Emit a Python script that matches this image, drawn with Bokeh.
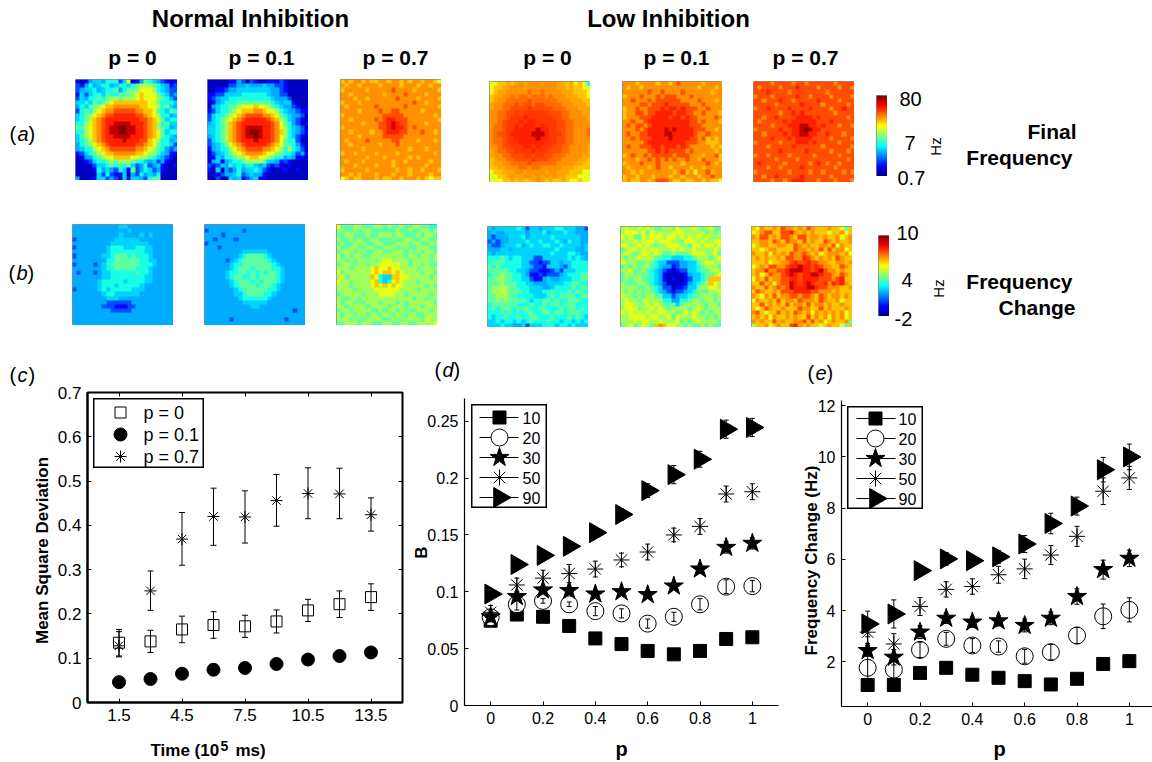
import math
import numpy as np
from bokeh.embed import file_html
from bokeh.layouts import column, row
from bokeh.models import ColumnDataSource, FixedTicker, Label, LinearAxis, LinearColorMapper, Range1d, TeeHead, Whisker
from bokeh.plotting import figure
from bokeh.resources import INLINE
from bokeh.core.properties import value

FONT = "Liberation Sans"
G = lambda s: [r.replace(" ", "") for r in s.strip().splitlines()]

normal_a_p0 = G("""
212455 466635 912476 543212
324645 664566 567888 765423
345564 566746 778999 865433
253566 576677 789A99 976534
354667 678878 889A99 987643
556576 789AAA AAAAA9 976665
465778 9AABBB BBBAA9 986754
367689 ABBCCC CCBBAA 976576
56789A BCCDDD DDCCBA 986645
5678AB CDDDDD DDDCCB A97566
6689AB CDDEEE EDDDCB A86755
7789AB CDEEFF EEDDCB A87645
6689AB CDEEFF EEDDCB A97566
5789AB CDDEEE EDDDCB A97654
5678AB CDDDDE DDDCCA 986645
46789A BCDDDD DDCCBA 976653
456689 ABCCCC CCBBA9 876434
235678 9AABBB BBAA98 865422
124467 899AAA A99887 654321
112356 678788 876654 534211
111135 567676 753463 452112
111126 454365 273465 342111
111115 363225 143645 461111
411125 534315 255436 771111
""")
normal_a_p1 = G("""
111112 243132 112223 211111
111113 344544 454433 211111
112234 455555 555443 211111
223355 556666 665443 311111
234556 666666 666544 431111
124566 677777 777654 552111
145667 78999A 998765 443211
235667 89AAAB BA9986 544322
356678 9ABCCC CBBA97 654431
356789 ABCDDD DDCBA8 754321
45678A BCDDDD DDDCB9 764312
55678A BCDEEE EDDCB9 865431
55678A BCDEFF EDDCBA 865432
45678A BCDEEF EDDCB9 865321
35678A BCDDDE DDDCB9 766311
345679 ABCDDD DDCBA9 776421
245668 9ABCCC CBBA98 686531
134567 89ABBB BA9987 665342
225466 7889AA 998766 454221
145245 667888 875542 321111
323546 565665 453232 121111
215143 464556 532111 211211
112344 563454 421111 111111
113115 452345 121111 111111
""")
normal_a_p7 = G("""
ABABBA BAABBA BBABAB BABBA9
BABBAB BBBABB BBABBB ABBABB
ABBBBB ABBBBB CBBBBA BBBBBA
BBABBB BBBBAB BBBCBB BBABBB
BBBABB ABBBBB BCBBBB ABBBBA
ABBBAB BBBBBB BBBBBC BBABBB
BABBBB BBCBBB BBBCBB BBBBBA
BBBBAB BBBCBB CCBBBB BABBBB
ABBBBB BBBBCC CCCBBB BBBBAB
BBABBB BBCBCD DCCCBB BBBBBA
BBBBBA BBBCCD EDCCBB BBABBB
ABBBBB BBBCCD EDDCBC BBBBBB
BBABBB BABBCD DDCCBB BCBBAB
BBBBAB BBBBCC CCCBBB BBBBBB
BABBBB CBBBBB CCBBBB ABBBAB
BBABBB BBBABB BCBBBB BBBBBB
BBBBBA BBBBBB BBBBAB BBABBB
ABBABB BBABBB BABBBB BBBBAB
BBBBBB ABBBAB BBBBAB ABBBBB
BABBBA BBBBBB ABBABB BBBABB
BBBABB BBABBB ABBBBB BBABBB
ABBBBB ABBBBB BABBAB BABBBA
BBABAB BBABBB ABBBAB BBBABB
9ABAAB BBABAA BBABBB ABA9AA
""")
low_a_p0 = G("""
99AAaA aBaBBB aBBBaa Aa9A96
9AAaaB BBaBBB BBBBaa AaAA99
9AaaBB BBBbBB bBBBBa aaAAA9
AaaBBb BbbBbb bBbBBB aaaAA9
AaBBbb bbbCbb bbbbBB BaaaAA
aBBbbb CbCCbC CbbbbB BBaaaA
aBBbbC CCCcCC CCCbbb BBBaaa
BBbbCC cCcccc ccCCCb bBBBaa
BBbbCc ccDccc cccCCb bBBBBa
BBbCcc cDcDDc ccccCC bbBBBa
BbbCcc DcDDDc DcccCC bbBBBB
BbbCcc DDDDDE DDccCC bbBBBb
BbCCcD DDDDEE EDcccC bbBBBb
BbbCcc DDDDDE DDccCC bbBBBB
BbbCcc cDDDDD DcccCC bbBBBB
BBbCCc ccDDcD cccCCb bBBBBa
aBbbCC ccccDc ccCCCb bBBBBa
aBBbbC CCccCc cCCbbb BBBBaa
AaBBbb CCCCcC CCbbbB BBBaaA
AaaBBb bbbCbb bbbbBB BBaaAA
AAaaBB BbbBbb BBBBBa aaAAAA
9AAaaa BBaBBB BaBBaa aAAA99
99AAaB aaBBaB aBaBaa AAA999
999AAa AaAAaB aAaAAa A99A99
""")
low_a_p1 = G("""
BBBABB BBABBA BCBBBB BABBBB
BABBAB BBBBBB BBBBBB ABBBAB
BBBBBB CBBCBB BBCBBB BBBABB
ABBBCB BBCBCC CBBBCB BBBBBB
BBCBBB CBCCCC CCBBBB CBBBAB
BBBBCC BCCCDC CCCCBB BCBBBB
ABBCBB CCCDCD DCDCCC BBCBBB
ABBCCB CCDDDD CDDCCB BCBBBA
ABBBCC CDDDDC DDCDCC BBBBCB
BBCBBC DDDDDD DDDDCC BCBBBA
BCBCCB CDDDDD DDDDCC CBBBBB
BBBCBC DDDDED EDDDDC CCBBAB
BCBBCC DDDDEE DDDDDC BBCBBB
BBCBCC CDDDDE DDDDCC BCABAB
BBBBBC DDDDDD DDDCCC BBAAAB
BCBBCC CDDCDD DCDCBB BBBABA
BBBBBB CCDCDC CCCBCB BBBBAB
ABCBBC BCCCCC BCCCBB BABBCA
BBBABB CBCBCB CBBCBB ACBBBA
ABBBCB BBCBBB BBABBB BBCBAB
BABBBB ABCBBA BBBBAB BABBBB
BBABAB BBBBBB ABCAB9 BBCABB
ABBABB BABBBA BBABBB ABBCBB
ABAABB ABCCCB AABAAB BABAA9
""")
low_a_p7 = G("""
CCCCBC CCCBCC BCCCCC CBCCCC
CBCCCC BCCCDC CCCBCC CCBCCB
CCCDCC CCBCCC CCCCCB CCCCCC
BCCCBC CCCCDC CBCCCC BCCCCB
CCBCCC DCCBCC CCCDCC CCBCCC
CCCCCB CCCCCD CCCCBC CCCCBC
BCCDCC CCDCCC CDCCCC BCCDCC
CCCCCC BCCDCD CCCCCC CBCCCC
CCBCCD CCCCDD DDCDCC CCCCBC
CBCCCC CDCDDD DDDCCC DCCCCC
CCCCBC CCDDDE EDDCDC CCBCCB
BCCCCC DCCDDE FEDDCC CCCCCC
CCBCCC CDCDDE EDDCCD CCCBCC
CCCCDC CCDCDD DDCCCC BCCCCB
BCCCCC BCCCDD DCDCCC CCBCCC
CCCBCC CCCDCC CCCCBC CCCCCB
CCCCCC DCCCCC DCCCCC BCCCBC
BCCBCC CCBCCC CCBCCC CCBCCC
CCCCCB CCCCBC CCCCCC CCCCBC
CDCCCC CBCCCC CBCDCB CCBCCC
CCCBCC BCCCCD CCCCCC CBCCCC
BCCCCC CCBCCC CBCCBC CCCBCB
CCBCCD CCCCCD CCCCCC BCCCCC
CCCCBC CBCDDD CCCBCC CBCCCB
""")
normal_b_p0 = G("""
444444 444445 544444 444444
444444 444444 454444 444444
444444 444445 444454 544444
344444 444455 555544 444444
444444 444555 555555 444444
344444 445666 555665 544444
444444 445666 666665 544444
344444 455677 767666 544444
444444 446677 777766 554444
344443 456777 777766 654444
444444 456677 777666 544444
434443 455666 666766 544444
444444 455666 666665 544444
444444 566666 566665 544444
444444 566656 666654 444444
344444 565666 665554 444444
444444 456655 555544 444444
444444 445554 444444 444444
444444 443333 334444 444444
444444 433322 233444 444444
444444 444333 334444 444444
444444 444444 444444 444444
444444 444444 444444 444444
444444 444444 444444 444444
""")
normal_b_p1 = G("""
444444 444444 444444 444444
344444 444344 444444 444444
444434 444444 444444 444444
443444 434444 444444 444444
344444 444444 444444 444444
444344 444444 444444 444444
444444 444555 555444 444444
444444 445677 776544 444444
444443 456777 777654 444444
444444 566777 777765 444444
444444 567776 777766 544444
444445 667767 676776 544444
444445 677667 677776 544444
444444 567776 767776 544444
444444 567777 677765 444444
444444 456777 777665 444444
444444 455677 776654 444444
444444 445666 666544 444444
444444 444555 555444 444444
444444 444445 544444 444444
444444 444444 444444 444344
444444 444444 444444 444444
444444 344444 444444 434444
444444 444444 444444 444444
""")
normal_b_p7 = G("""
977788 777887 877877 887766
887787 887777 778778 778878
778877 787788 878877 787887
877878 778877 787788 778877
787788 877887 778887 887788
877887 788778 887787 788877
788878 877887 788878 787887
878788 778888 888878 878878
887878 888789 988887 888878
788878 878899 999887 887877
888788 889A99 A99888 878888
978888 889A9A A9A988 887887
897888 88A965 5AA998 888878
988888 889A65 69A988 878888
888788 889A9A 9A9988 888787
888878 888999 999888 878888
788888 788899 998878 888878
877887 888888 888888 788788
878878 788878 887878 888887
887888 878888 788878 887888
788788 887787 887887 788878
878878 878878 878878 877888
888787 788887 788788 887988
778887 887778 877887 788889
""")
low_b_p0 = G("""
545555 565355 455566 555443
454455 555455 564555 655444
434445 556455 555655 555544
343445 555655 655565 465544
433455 564565 566556 555545
444554 555555 555565 555445
545555 555555 555655 566544
666765 665553 355555 565654
677766 665533 233554 556666
767666 665543 325554 356666
777776 655433 222343 555666
677877 665422 323334 566677
778877 665532 245445 556677
777877 766554 445555 667766
788887 766655 544566 667677
788987 776655 566766 676776
778887 766665 556767 777677
778787 777656 677676 677766
677777 766676 676776 777666
676777 677766 776667 677676
666767 666776 677677 677766
656676 676677 666766 676765
556566 565676 667665 665656
555655 445355 566656 656555
""")
low_b_p1 = G("""
898898 987788 798889 878977
899989 798988 999888 897878
989779 899989 989898 989888
888989 998999 887999 898899
998898 987889 998879 989989
789989 899888 989889 888898
898789 989877 877789 998897
878898 987766 555667 888789
988877 876553 334455 789988
787878 876544 234455 678887
889778 765432 123355 677898
788787 765421 111245 567789
787887 765421 211235 567AAA
877788 765431 111245 678A98
888877 876533 122355 788998
878787 876543 233456 877889
988787 887755 345567 788878
898878 988866 446678 878878
899888 989877 757888 887887
899978 898987 888878 987888
989898 988998 878989 878788
889999 899889 798889 887878
888989 988988 897878 988887
789789 87ABA9 988787 787877
""")
low_b_p7 = G("""
A9BAAB ACBBAB ACBAAA BAA97A
9ABCCA ACCDBA BABAAA 9AAB9A
BACCAB ACCBAC CABBAB AAB9AB
AABBAC BACBBA CABAAC BABAAB
9ABBAA BBAACB ABAABB AC9BAA
AA9ABB AAAACB BABACA CABB9A
BAAB9B ABACBB CBAB9A BBBAB9
ABABAA BACCBB DCBABA BACBAA
AAAB9A ABBCDC CDCCBB AABBAB
9ABACC BBCDDE DDCDCB BAACBA
ABBDBB CCDEEE DDCDEC BBABAA
AB9ACB BCDEDC DDEEDC CBACBA
9BACAB BCCDDC DDDDCC CBCDAA
AACAB9 BCCEDC DEDCCD BDCDBA
BAACAB CBCEDD DEEDCC BBBAAB
ACBAAB ACCCDD DDCCBB BABAAA
BA9BAC ABBCCB CCBACB ABBABA
9BAABA CABBAC BBBACB AAB9AA
AACABA BACABB ACABBA BAABAA
A9ACBA ABAAAC BBAACA BAAABA
BCA9AA CABACB AB9BAB ABAB9A
ABAB9B AABABA ACABAB 9BAB9A
BABAAC ABAABB CACAB9 ABAAB7
8AAB9A BAACDB ABAA9A BAA97A
""")

# panel c
time_x = [1.5, 3, 4.5, 6, 7.5, 9, 10.5, 12, 13.5]
c_p0 = [.135, .138, .165, .175, .172, .183, .208, .222, .238]
c_p0_err = [.03, .025, .03, .03, .025, .026, .025, .03, .03]
c_p1 = [.046, .053, .065, .074, .078, .087, .097, .105, .113]
c_p7 = [.128, .252, .369, .42, .419, .456, .472, .471, .424]
c_p7_up = [.16, .297, .429, .484, .478, .515, .53, .529, .462]
c_p7_lo = [.103, .208, .31, .355, .36, .398, .415, .415, .387]
c_names = ["p = 0", "p = 0.1", "p = 0.7"]

# panels d and e
p_x = [0, .1, .2, .3, .4, .5, .6, .7, .8, .9, 1]
size_names = ["10", "20", "30", "50", "90"]
d_vals = [
    [.0746, .080, .078, .070, .059, .054, .048, .045, .048, .0585, .060],
    [.0776, .089, .092, .089, .083, .081, .072, .078, .089, .1045, .105],
    [.078, .0957, .1016, .101, .098, .100, .0975, .105, .120, .139, .1426],
    [.082, .106, .112, .116, .120, .128, .135, .150, .1575, .186, .188],
    [.098, .124, .132, .140, .152, .168, .189, .203, .2166, .243, .2445],
]
d_errs = [
    [.001] * 11,
    [.003, .005, .002, .002, .004, .004, .004, .004, .005, .006, .005],
    [.003, .003, .003, .003, .003, .003, .003, .003, .004, .005, .005],
    [.006, .006, .007, .008, .007, .006, .007, .006, .007, .007, .007],
    [.002, .002, .002, .002, .003, .005, .006, .008, .007, .008, .008],
]
e_vals = [
    [1.1, 1.1, 1.57, 1.77, 1.5, 1.38, 1.25, 1.12, 1.34, 1.92, 2.03],
    [1.77, 1.7, 2.47, 2.9, 2.64, 2.6, 2.22, 2.38, 3.03, 3.78, 4.03],
    [2.44, 2.18, 3.16, 3.7, 3.55, 3.6, 3.42, 3.7, 4.55, 5.6, 6.04],
    [3.16, 2.7, 4.16, 4.83, 4.94, 5.4, 5.63, 6.17, 6.9, 8.66, 9.18],
    [3.48, 3.87, 5.56, 6.02, 5.95, 6.1, 6.6, 7.4, 8.08, 9.5, 10.0],
]
e_errs = [
    [.05] * 11,
    [.45, .55, .3, .25, .27, .22, .27, .3, .32, .48, .47],
    [.2, .3, .25, .2, .2, .2, .25, .25, .3, .37, .32],
    [.45, .4, .35, .3, .3, .33, .38, .37, .39, .52, .45],
    [.5, .55, .2, .25, .2, .25, .33, .4, .35, .48, .5],
]


def jet(v):
    c = lambda x: max(0.0, min(1.0, x))
    return "#%02x%02x%02x" % tuple(int(255 * c(1.5 - abs(4 * v - k))) for k in (3, 2, 1))


JET = [jet(i / 255) for i in range(256)]
MAPPER = LinearColorMapper(palette=JET, low=0, high=15)
LEVELS = {c: float(i) for i, c in enumerate("0123456789ABCDEF")}
LEVELS.update({"4": 4.4, "A": 10.2, "D": 12.6, "a": 10.7, "b": 11.5, "c": 12.3})


def place(fig, left, top):
    # a wrapper of its own keeps the column from lining up the frames of the figures
    return row(fig, width=fig.width, height=fig.height,
               styles={"position": "absolute", "left": f"{left}px", "top": f"{top}px"})


def bare(w, h, xr, yr):
    f = figure(width=w, height=h, x_range=xr, y_range=yr, toolbar_location=None, output_backend="svg",
               min_border_left=0, min_border_right=0, min_border_top=0, min_border_bottom=0, tools="",
               x_axis_location=None, y_axis_location=None)
    f.grid.visible = False
    f.background_fill_alpha = 0
    f.border_fill_alpha = 0
    return f


def heat(rows, x0, y0, x1, y1):
    arr = np.array([[LEVELS[ch] for ch in r] for r in rows])[::-1]
    n = arr.shape[0]
    # each cell is repeated so that the browser's image scaling keeps the cells' edges
    img = np.kron(arr, np.ones((5, 5)))
    f = bare(x1 - x0, y1 - y0, Range1d(0, n), Range1d(0, n))
    f.image(image=[img], x=0, y=0, dw=n, dh=n, color_mapper=MAPPER)
    f.outline_line_color = "#8a8a80"
    f.outline_line_width = 1
    return place(f, x0, y0)


# background text layer, in page pixels
bg = bare(1152, 762, Range1d(0, 1152), Range1d(762, 0))
bg.outline_line_color = None


def T(x, y, s, size=16, style="normal", align="left", angle=0):
    bg.add_layout(Label(x=x, y=y, text=s, text_font=FONT, text_font_size=f"{size}px",
                        text_font_style=style, text_align=align, text_baseline="middle",
                        angle=angle, angle_units="deg", text_color="black"))


T(250, 18, "Normal Inhibition", 24, "bold", "center")
T(668, 18, "Low Inhibition", 24, "bold", "center")
for cx, s in [(132, "p = 0"), (261, "p = 0.1"), (395, "p = 0.7"),
              (547, "p = 0"), (676, "p = 0.1"), (805, "p = 0.7")]:
    T(cx, 57, s, 21, "bold", "center")
for x, y, a in [(9, 133, "a"), (8, 272, "b"), (9, 374, "c"), (434, 369, "d"), (807, 372, "e")]:
    T(x, y, "(", 20)
    T(x + 8, y, a, 20, "italic")
    T(x + 19, y, ")", 20)
for x, y, s in [(1076, 131, "Final"), (1072, 157, "Frequency"), (1072, 281, "Frequency"), (1075, 307, "Change")]:
    T(x, y, s, 21, "bold", "right")
for x, y, s in [(899, 98, "80"), (904, 142, "7"), (897, 177, "0.7"), (896, 232, "10"), (901, 279, "4"), (894, 318, "-2")]:
    T(x, y, s, 20)
T(935, 146, "Hz", 15, "normal", "center", 90)
T(938, 288, "Hz", 15, "normal", "center", 90)
T(42, 550, "Mean Square Deviation", 17, "bold", "center", 90)
T(150, 750, "Time (10", 17, "bold")
T(220, 745, "5", 14, "bold")
T(235, 750, "ms)", 17, "bold")
T(421, 552, "B", 17, "bold", "center", 90)
T(621, 748, "p", 20, "bold", "center")
T(811, 560, "Frequency Change (Hz)", 17, "bold", "center", 90)
T(999, 748, "p", 20, "bold", "center")

heatmaps = [
    (normal_a_p0, 75, 79, 177, 180), (normal_a_p1, 207, 79, 308, 180), (normal_a_p7, 340, 79, 441, 180),
    (low_a_p0, 489, 81, 590, 182), (low_a_p1, 622, 81, 722, 182), (low_a_p7, 753, 81, 854, 182),
    (normal_b_p0, 72, 224, 173, 325), (normal_b_p1, 204, 224, 305, 325), (normal_b_p7, 336, 224, 437, 325),
    (low_b_p0, 487, 226, 588, 327), (low_b_p1, 620, 226, 721, 327), (low_b_p7, 751, 226, 852, 327),
]
figs = [place(bg, 0, 0)] + [heat(*h) for h in heatmaps]

for x0, y0, x1, y1 in [(876, 95, 887, 176), (878, 235, 889, 316)]:
    cb = bare(x1 - x0, y1 - y0, Range1d(0, 1), Range1d(0, 256))
    cb.image(image=[np.arange(256.0).reshape(256, 1)], x=0, y=0, dw=1, dh=256,
             color_mapper=LinearColorMapper(palette=JET, low=0, high=255))
    cb.outline_line_color = "#8a8a80"
    figs.append(place(cb, x0, y0))


def panel(fl, ft, fr, fb, xr, yr, xt, xl, yt, yl, tick_size, boxed):
    ml, mr, mt, mb = 58, 6, 12, 34
    mr = min(mr, 1152 - fr)
    f = figure(width=fr - fl + ml + mr, height=fb - ft + mt + mb, x_range=Range1d(*xr), y_range=Range1d(*yr),
               toolbar_location=None, output_backend="svg", tools="", min_border_left=ml, min_border_right=mr,
               min_border_top=mt, min_border_bottom=mb)
    f.grid.visible = False
    f.background_fill_alpha = 0
    f.border_fill_alpha = 0
    f.xaxis.ticker = FixedTicker(ticks=xt)
    f.yaxis.ticker = FixedTicker(ticks=yt)
    f.xaxis.major_label_overrides = dict(zip(xt, xl))
    f.yaxis.major_label_overrides = dict(zip(yt, yl))
    for ax in (f.xaxis[0], f.yaxis[0]):
        ax.major_tick_in = 4
        ax.major_tick_out = 0
        ax.minor_tick_line_color = None
        ax.major_label_text_font = FONT
        ax.major_label_text_font_size = tick_size
        ax.major_label_text_color = "black"
        ax.major_label_standoff = 6
        ax.axis_line_color = "black"
        ax.axis_line_width = 2 if boxed else 1.2
    f.outline_line_color = None
    if boxed:
        f.outline_line_color = "black"
        f.outline_line_width = 2
        for loc, tk in (("above", xt), ("right", yt)):
            a = LinearAxis(ticker=FixedTicker(ticks=tk), major_label_overrides={t: "" for t in tk}, major_tick_in=4,
                           major_tick_out=0, minor_tick_line_color=None, major_label_standoff=0)
            f.add_layout(a, loc)
    return f, place(f, fl - ml, ft - mt)


def whisk(f, x, lo, up, w=6):
    src = ColumnDataSource(dict(x=x, lo=lo, up=up))
    f.add_layout(Whisker(base="x", lower="lo", upper="up", source=src, level="glyph", line_width=1, line_color="black",
                         upper_head=TeeHead(size=w, line_width=1), lower_head=TeeHead(size=w, line_width=1)))


# panel c
pc, wrap = panel(87, 392, 402, 702, (0, 15), (0, 0.7), [1.5, 4.5, 7.5, 10.5, 13.5], ["1.5", "4.5", "7.5", "10.5", "13.5"],
                 [0, .1, .2, .3, .4, .5, .6, .7], ["0", "0.1", "0.2", "0.3", "0.4", "0.5", "0.6", "0.7"], "17px", True)
whisk(pc, time_x, [v - e for v, e in zip(c_p0, c_p0_err)], [v + e for v, e in zip(c_p0, c_p0_err)])
whisk(pc, time_x, c_p7_lo, c_p7_up)
pc.scatter(time_x, c_p0, marker="square", size=11, fill_color="white", line_color="black", line_width=1, fill_alpha=1)
pc.scatter(time_x, c_p1, marker="circle", size=13, fill_color="black", line_color="black")
pc.scatter(time_x, c_p7, marker="asterisk", size=12, fill_color=None, line_color="black", line_width=1)
figs.append(wrap)

MARKS = [
    dict(marker="square", size=13, fill_color="black", line_color="black"),
    dict(marker="circle", size=17, fill_color="white", line_color="black", line_width=1),
    dict(marker="star", size=20, fill_color="black", line_color="black"),
    dict(marker="asterisk", size=16, fill_color=None, line_color="black", line_width=1),
    dict(marker="triangle", size=20, fill_color="black", line_color="black", angle=-math.pi / 2),
]


def series(f, vals, errs):
    for v, e, m in zip(vals, errs, MARKS):
        f.scatter(p_x, v, **m)
        whisk(f, p_x, [a - b for a, b in zip(v, e)], [a + b for a, b in zip(v, e)], 5)


pd_, wrap = panel(464, 398, 778, 705, (-.1, 1.1), (0, .27), [0, .2, .4, .6, .8, 1], ["0", "0.2", "0.4", "0.6", "0.8", "1"],
                  [0, .05, .1, .15, .2, .25], ["0", "0.05", "0.1", "0.15", "0.2", "0.25"], "16px", False)
series(pd_, d_vals, d_errs)
figs.append(wrap)

pe, wrap = panel(841, 400, 1152, 706, (-.1, 1.0885), (.26, 12.2), [0, .2, .4, .6, .8, 1], ["0", "0.2", "0.4", "0.6", "0.8", "1"],
                 [2, 4, 6, 8, 10, 12], ["2", "4", "6", "8", "10", "12"], "16px", False)
series(pe, e_vals, e_errs)
figs.append(wrap)


# legends
def legend(x0, y0, x1, y1, names, marks, row0, dy, mx, tx, line=None, fs="16px"):
    w, h = x1 - x0, y1 - y0
    f = bare(w, h, Range1d(x0, x1), Range1d(y1, y0))
    f.background_fill_alpha = 1
    f.background_fill_color = "white"
    f.outline_line_color = "black"
    f.outline_line_width = 2
    ys = [row0 + i * dy for i in range(len(names))]
    if line:
        for y in ys:
            f.line([line[0], line[1]], [y, y], line_color="black", line_width=1)
    for y, m in zip(ys, marks):
        f.scatter([mx], [y], **m)
    f.text([tx] * len(names), ys, text=names, text_font=value(FONT), text_font_size=fs, text_baseline="middle",
           text_color="black")
    return place(f, x0, y0)


figs.append(legend(93, 398, 204, 468, c_names, [
    dict(marker="square", size=11, fill_color="white", line_color="black"),
    dict(marker="circle", size=13, fill_color="black", line_color="black"),
    dict(marker="asterisk", size=12, fill_color=None, line_color="black"),
], 412, 22, 120, 143, fs="18px"))
figs.append(legend(471, 404, 547, 508, size_names, MARKS, 417, 20, 499, 522, (479, 518)))
figs.append(legend(847, 406, 923, 509, size_names, MARKS, 418, 20, 875, 898, (856, 895)))

p = column(*figs, width=1152, height=762)
open("out.html", "w").write(file_html(p, INLINE))
